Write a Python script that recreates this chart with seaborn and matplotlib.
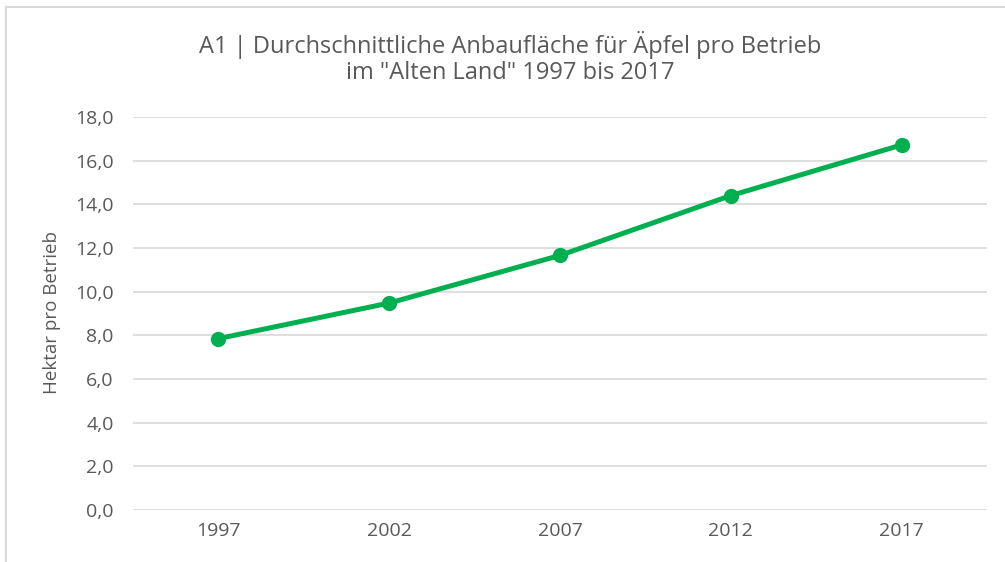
import matplotlib
matplotlib.use("Agg")
import matplotlib.pyplot as plt
import seaborn as sns
import pandas as pd
from matplotlib.lines import Line2D

# Daten
jahre = ["1997", "2002", "2007", "2012", "2017"]
hektar = [7.85, 9.48, 11.66, 14.40, 16.72]
y_ticks = [0, 2, 4, 6, 8, 10, 12, 14, 16, 18]

df = pd.DataFrame({"Jahr": jahre, "Hektar": hektar})

sns.set_style("white")
plt.rcParams["font.family"] = ["Open Sans", "DejaVu Sans"]
text_farbe = "#595959"
gitter_farbe = "#D9D9D9"
gruen = "#00B050"

fig = plt.figure(figsize=(10.05, 5.62), dpi=100)
ax = fig.add_axes([133 / 1005, 1 - 510 / 562, (987 - 133) / 1005, (510 - 117) / 562])

sns.lineplot(data=df, x="Jahr", y="Hektar", ax=ax, color=gruen, linewidth=3.6,
             marker="o", markersize=11, markeredgewidth=0, sort=False)

ax.set_xlim(-0.5, 4.5)
ax.set_ylim(0, 18)
ax.set_yticks(y_ticks)
ax.set_yticklabels([f"{v:.1f}".replace(".", ",") for v in y_ticks])
ax.grid(axis="y", color=gitter_farbe, linewidth=1.2)
ax.grid(axis="x", visible=False)
ax.set_axisbelow(True)
for s in ax.spines.values():
    s.set_visible(False)
ax.tick_params(axis="both", length=0, labelsize=14, colors=text_farbe)
ax.tick_params(axis="y", pad=14)
ax.tick_params(axis="x", pad=9)
ax.set_xlabel("")
ax.set_ylabel("Hektar pro Betrieb", fontsize=13.5, color=text_farbe)
ax.yaxis.set_label_coords((61 - 133) / 854, (510 - 313) / 393)

fig.text(510 / 1005, 1 - 58 / 562,
         "A1 | Durchschnittliche Anbaufläche für Äpfel pro Betrieb\nim \"Alten Land\" 1997 bis 2017",
         ha="center", va="center", fontsize=17, color=text_farbe, linespacing=1.1)

# Rahmen oben und links
fig.add_artist(Line2D([5.5 / 1005, 5.5 / 1005], [0, 1 - 6.5 / 562], transform=fig.transFigure,
                      color=gitter_farbe, linewidth=1.5))
fig.add_artist(Line2D([5.5 / 1005, 1], [1 - 6.5 / 562, 1 - 6.5 / 562], transform=fig.transFigure,
                      color=gitter_farbe, linewidth=1.5))

fig.savefig("out.png", dpi=100)
